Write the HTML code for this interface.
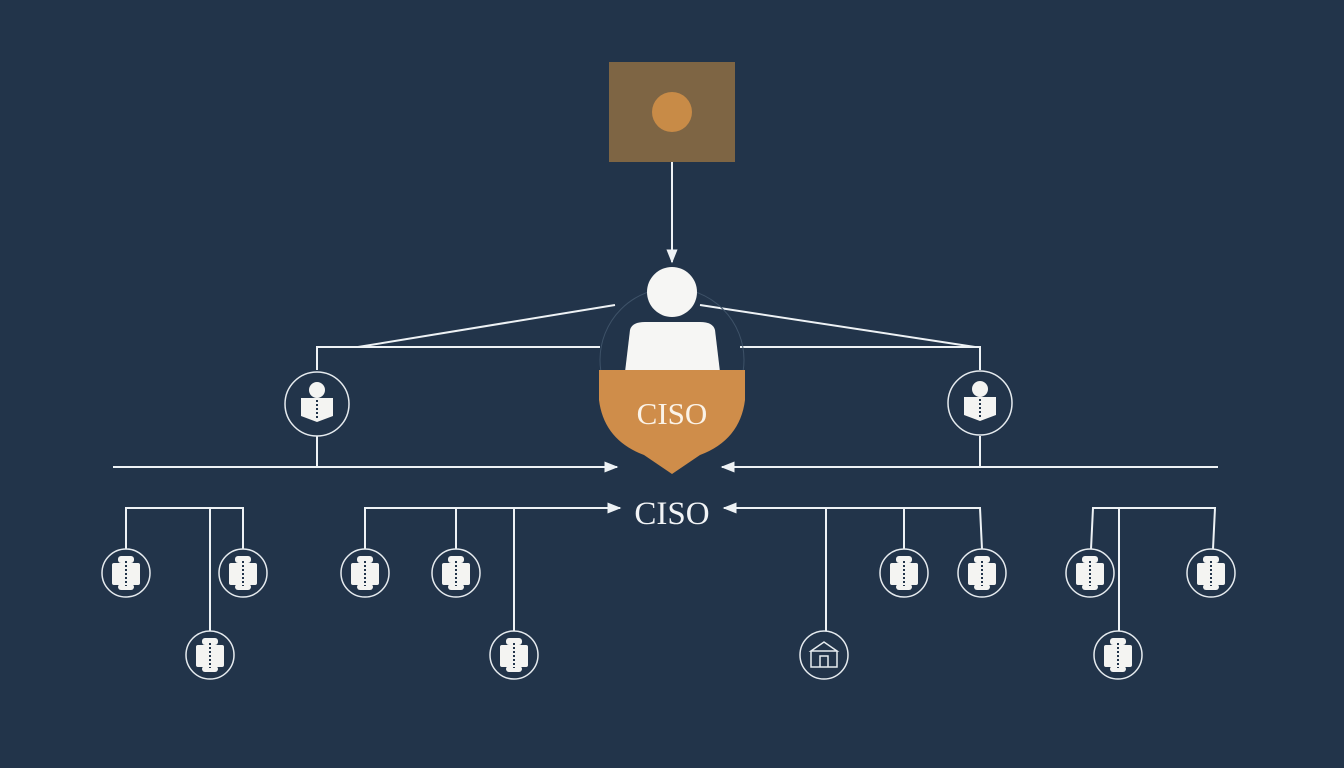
<!DOCTYPE html>
<html><head><meta charset="utf-8"><style>
html,body{margin:0;padding:0;background:#22344a;}
svg{display:block;}
</style></head><body>
<svg width="1344" height="768" viewBox="0 0 1344 768" xmlns="http://www.w3.org/2000/svg">
<defs>
<marker id="a" viewBox="0 0 10 10" refX="9" refY="5" markerWidth="7" markerHeight="7" orient="auto"><path d="M0,1 L10,5 L0,9 Z" fill="#eef2f5"/></marker>
<g id="p">
 <circle r="24" fill="none" stroke="#e6ebef" stroke-width="1.5"/>
 <rect x="-8" y="-17" width="16" height="7" rx="3" fill="#f4f4f2"/>
 <rect x="-14" y="-10" width="28" height="22" rx="2" fill="#f4f4f2"/>
 <rect x="-8" y="11" width="16" height="6" rx="3" fill="#f4f4f2"/>
 <path d="M0,-12 L0,13" stroke="#22344a" stroke-width="2" stroke-dasharray="2 2"/>
</g>
<g id="b">
 <circle r="32" fill="none" stroke="#e6ebef" stroke-width="1.5"/>
 <circle cx="0" cy="-14" r="8" fill="#f4f4f2"/>
 <path d="M-16,-6 L16,-6 L16,12 L0,18 L-16,12 Z" fill="#f4f4f2"/>
 <path d="M0,-4 L0,14" stroke="#22344a" stroke-width="2" stroke-dasharray="2 2"/>
</g>
</defs>
<g stroke="#eef2f5" stroke-width="2" fill="none">
 <line x1="672" y1="162" x2="672" y2="262" marker-end="url(#a)"/>
 <polyline points="615,305 358,347"/>
 <polyline points="600,347 317,347 317,370"/>
 <polyline points="700,305 975,347"/>
 <polyline points="740,347 980,347 980,370"/>
 <line x1="317" y1="436" x2="317" y2="467"/>
 <line x1="980" y1="436" x2="980" y2="467"/>
 <line x1="113" y1="467" x2="617" y2="467" marker-end="url(#a)"/>
 <line x1="1218" y1="467" x2="722" y2="467" marker-end="url(#a)"/>
 <polyline points="126,549 126,508 243,508 243,549"/>
 <line x1="210" y1="508" x2="210" y2="631"/>
 <polyline points="365,549 365,508 620,508" marker-end="url(#a)"/>
 <line x1="456" y1="508" x2="456" y2="549"/>
 <line x1="514" y1="508" x2="514" y2="631"/>
 <polyline points="982,549 980,508 724,508" marker-end="url(#a)"/>
 <line x1="826" y1="508" x2="826" y2="631"/>
 <line x1="904" y1="508" x2="904" y2="549"/>
 <polyline points="1091,549 1093,508 1215,508 1213,549"/>
 <line x1="1119" y1="508" x2="1119" y2="631"/>
</g>
<rect x="609" y="62" width="126" height="100" fill="#7e6544"/>
<circle cx="672" cy="112" r="20" fill="#c88b47"/>
<circle cx="672" cy="360" r="72" fill="none" stroke="#3e5268" stroke-width="1"/>
<circle cx="672" cy="292" r="25" fill="#f6f6f4"/>
<path d="M630,330 Q632,322 645,322 L700,322 Q713,322 715,330 L720,372 L625,372 Z" fill="#f6f6f4"/>
<path d="M599,370 L745,370 L745,400 Q740,440 700,455 L672,474 L644,455 Q604,440 599,400 Z" fill="#cf8d4a"/>
<text x="672" y="424" font-family="Liberation Serif, serif" font-size="31" fill="#fbf3e8" text-anchor="middle">CISO</text>
<text x="672" y="524" font-family="Liberation Serif, serif" font-size="33" fill="#f2f4f6" text-anchor="middle">CISO</text>
<use href="#b" x="317" y="404"/>
<use href="#b" x="980" y="403"/>
<use href="#p" x="126" y="573"/>
<use href="#p" x="243" y="573"/>
<use href="#p" x="210" y="655"/>
<use href="#p" x="365" y="573"/>
<use href="#p" x="456" y="573"/>
<use href="#p" x="514" y="655"/>
<use href="#p" x="904" y="573"/>
<use href="#p" x="982" y="573"/>
<use href="#p" x="1090" y="573"/>
<use href="#p" x="1211" y="573"/>
<use href="#p" x="1118" y="655"/>
<g transform="translate(824,655)" stroke="#e6ebef" fill="none" stroke-width="1.5">
 <circle r="24"/>
 <path d="M-13,-4 L0,-13 L13,-4 Z M-13,-4 L-13,12 L13,12 L13,-4 M-4,12 L-4,1 L4,1 L4,12"/>
</g>
</svg>
</body></html>
